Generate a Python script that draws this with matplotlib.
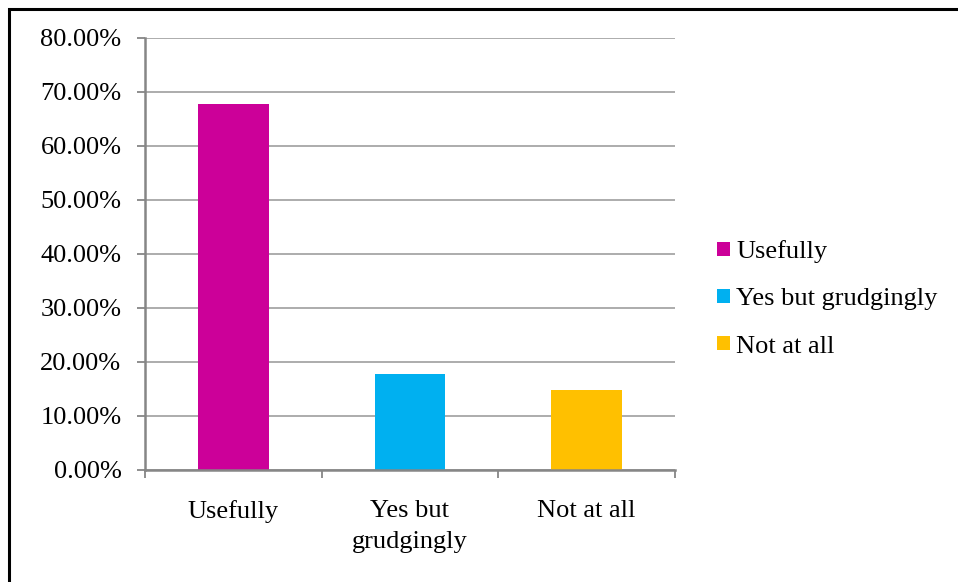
import numpy as np
import matplotlib.pyplot as plt
from matplotlib.patches import Rectangle, Patch

#%% data
categories = ['Usefully', 'Yes but\ngrudgingly', 'Not at all']
legend_labels = ['Usefully', 'Yes but grudgingly', 'Not at all']
shares = [67.7, 17.7, 14.7]
colors = ['#CC0099', '#00B0F0', '#FFC000']
yticks = [0, 10, 20, 30, 40, 50, 60, 70, 80]

#%% plot
plt.rcParams['font.family'] = ['Liberation Serif', 'DejaVu Serif']
fs = 19
grid_c = '#A6A6A6'
axis_c = '#868686'

fig = plt.figure(figsize=(9.58, 5.82), dpi=100)
ax = fig.add_axes([145/958, 1 - 469.5/582, 530/958, (469.5 - 37.8)/582])

x = np.arange(len(categories))
ax.bar(x, shares, width=0.4, color=colors, zorder=3)

ax.set_xlim(-0.5, len(categories) - 0.5)
ax.set_ylim(0, 80)
ax.set_yticks(yticks)
ax.set_yticklabels([f'{v:.2f}%' for v in yticks], fontsize=fs)
ax.yaxis.grid(True, color=grid_c, linewidth=1.3, zorder=0)

# category separators as ticks, labels centred with no tick
ax.set_xticks(np.arange(len(categories) + 1) - 0.5)
ax.set_xticklabels([])
ax.set_xticks(x, minor=True)
ax.set_xticklabels(categories, minor=True, fontsize=fs, linespacing=1.55)
ax.tick_params(axis='x', which='major', direction='out', length=6, width=1.3, color=axis_c)
ax.tick_params(axis='x', which='minor', length=0, pad=22)
ax.tick_params(axis='y', direction='out', length=6, width=1.3, color=axis_c, pad=11)

for s in ['top', 'right']:
    ax.spines[s].set_visible(False)
for s in ['left', 'bottom']:
    ax.spines[s].set_color(axis_c)
    ax.spines[s].set_linewidth(1.8)
    ax.spines[s].set_zorder(4)

handles = [Patch(facecolor=c, edgecolor='none') for c in colors]
fig.legend(handles, legend_labels, loc='center left', bbox_to_anchor=(706/958, 1 - 299/582),
           frameon=False, fontsize=fs, handlelength=0.5, handleheight=0.45,
           handletextpad=0.25, labelspacing=0.95, borderaxespad=0)

# outer chart border
fig.patches.append(Rectangle((9/958, -0.1), 1.2, 1 - 9/582 + 0.1, transform=fig.transFigure,
                             fill=False, edgecolor='black', linewidth=2.2))

fig.savefig('out.png', dpi=100)
